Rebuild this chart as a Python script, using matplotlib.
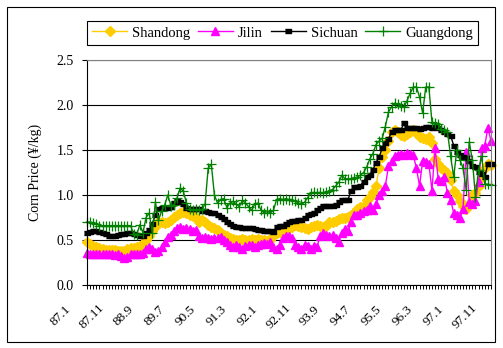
import numpy as np
import matplotlib.pyplot as plt
from matplotlib import transforms
from matplotlib.patches import Rectangle
from matplotlib.ticker import FormatStrFormatter

plt.rcParams['font.family'] = ['Liberation Serif', 'DejaVu Serif']

# Monthly corn prices (yuan/kg), 87.1 through 97.11
shandong = [
    0.48, 0.46, 0.43, 0.42, 0.41, 0.40, 0.39, 0.39, 0.39, 0.39,
    0.38, 0.38, 0.38, 0.40, 0.41, 0.41, 0.42, 0.43, 0.46, 0.50,
    0.54, 0.60, 0.64, 0.70, 0.70, 0.69, 0.70, 0.72, 0.76, 0.78,
    0.80, 0.81, 0.80, 0.78, 0.77, 0.76, 0.70, 0.72, 0.70, 0.67,
    0.65, 0.63, 0.61, 0.58, 0.56, 0.54, 0.52, 0.51, 0.50, 0.50,
    0.51, 0.50, 0.50, 0.51, 0.50, 0.51, 0.50, 0.50, 0.49, 0.50,
    0.55, 0.58, 0.59, 0.61, 0.62, 0.63, 0.64, 0.67, 0.66, 0.65,
    0.63, 0.62, 0.64, 0.66, 0.67, 0.66, 0.65, 0.66, 0.70, 0.70,
    0.71, 0.73, 0.75, 0.74, 0.76, 0.78, 0.80, 0.84, 0.87, 0.88,
    0.95, 0.98, 1.03, 1.10, 1.30, 1.42, 1.50, 1.60, 1.70, 1.72,
    1.70, 1.67, 1.66, 1.68, 1.70, 1.72, 1.69, 1.65, 1.63, 1.62,
    1.65, 1.58, 1.40, 1.35, 1.30, 1.28, 1.25, 1.17, 1.05, 1.00,
    0.93, 0.88, 0.85, 0.90, 1.00, 1.02, 1.10, 1.20, 1.30, 1.35,
    1.33,
]
jilin = [
    0.36, 0.35, 0.35, 0.34, 0.35, 0.34, 0.35, 0.34, 0.35, 0.33,
    0.34, 0.32, 0.30, 0.31, 0.34, 0.35, 0.34, 0.35, 0.36, 0.40,
    0.42, 0.40, 0.37, 0.38, 0.42, 0.48, 0.53, 0.56, 0.60, 0.63,
    0.64, 0.62, 0.63, 0.62, 0.60, 0.61, 0.55, 0.52, 0.53, 0.52,
    0.51, 0.52, 0.52, 0.53, 0.50, 0.48, 0.45, 0.42, 0.44, 0.42,
    0.40, 0.43, 0.45, 0.44, 0.42, 0.44, 0.46, 0.47, 0.46, 0.48,
    0.42, 0.40, 0.45, 0.52, 0.55, 0.54, 0.52, 0.44, 0.42, 0.40,
    0.44, 0.43, 0.40, 0.43, 0.42, 0.55, 0.58, 0.56, 0.54, 0.56,
    0.52, 0.48, 0.58, 0.62, 0.60, 0.70, 0.78, 0.78, 0.80, 0.82,
    0.83, 0.88, 0.83, 0.90, 1.00, 1.05, 1.10, 1.32, 1.38, 1.43,
    1.45, 1.46, 1.45, 1.47, 1.46, 1.44, 1.30, 1.10, 1.38, 1.37,
    1.35, 1.05, 1.52, 1.18, 1.16, 1.20, 1.02, 0.95, 0.80, 0.78,
    0.74, 0.85, 1.48, 0.92, 0.90, 0.93, 1.15, 1.52, 1.55, 1.75,
    1.60,
]
sichuan = [
    0.58, 0.59, 0.60, 0.60, 0.59, 0.58, 0.57, 0.55, 0.54, 0.54,
    0.56, 0.57, 0.57, 0.58, 0.58, 0.57, 0.56, 0.55, 0.55, 0.58,
    0.61, 0.68, 0.78, 0.84, 0.86, 0.86, 0.86, 0.87, 0.91, 0.93,
    0.92, 0.90, 0.86, 0.85, 0.85, 0.84, 0.84, 0.82, 0.82, 0.81,
    0.80, 0.80, 0.78, 0.76, 0.73, 0.70, 0.68, 0.66, 0.65, 0.64,
    0.63, 0.63, 0.63, 0.63, 0.62, 0.61, 0.61, 0.60, 0.60, 0.60,
    0.59, 0.65, 0.66, 0.66, 0.68, 0.70, 0.71, 0.71, 0.72, 0.72,
    0.75, 0.78, 0.79, 0.80, 0.83, 0.86, 0.88, 0.88, 0.88, 0.88,
    0.89, 0.92, 0.94, 0.94, 0.95, 1.05, 1.09, 1.09, 1.10, 1.15,
    1.20, 1.22, 1.28, 1.36, 1.42, 1.52, 1.58, 1.62, 1.70, 1.72,
    1.72, 1.72, 1.80, 1.75, 1.74, 1.74, 1.74, 1.73, 1.74, 1.76,
    1.76, 1.75, 1.76, 1.74, 1.72, 1.70, 1.68, 1.66, 1.55, 1.48,
    1.45, 1.42, 1.41, 1.38, 1.32, 1.31, 1.26, 1.23, 1.20, 1.35,
    1.35,
]
guangdong = [
    0.70, 0.70, 0.69, 0.68, 0.66, 0.66, 0.66, 0.66, 0.66, 0.66,
    0.66, 0.66, 0.66, 0.66, 0.66, 0.57, 0.56, 0.67, 0.58, 0.75,
    0.80, 0.58, 0.92, 0.72, 0.82, 0.89, 1.00, 0.88, 0.89, 0.97,
    1.08, 1.04, 0.91, 0.85, 0.83, 0.84, 0.83, 0.84, 0.90, 1.30,
    1.34, 1.00, 0.91, 0.95, 0.96, 0.86, 0.91, 0.93, 0.90, 0.87,
    0.94, 0.91, 0.87, 0.83, 0.90, 0.91, 0.83, 0.80, 0.82, 0.80,
    0.83, 0.95, 0.96, 0.95, 0.96, 0.95, 0.95, 0.93, 0.91, 0.90,
    0.92, 0.97, 1.02, 1.03, 1.02, 1.03, 1.02, 1.03, 1.05, 1.06,
    1.10, 1.14, 1.22, 1.18, 1.18, 1.18, 1.19, 1.20, 1.22, 1.25,
    1.31, 1.40, 1.46, 1.56, 1.60, 1.63, 1.76, 1.92, 1.98, 2.02,
    2.01, 1.99, 1.98, 2.05, 2.13, 2.20, 2.20, 2.09, 1.91, 2.20,
    2.20, 1.81, 1.80, 1.79, 1.73, 1.72, 1.70, 1.43, 1.20, 1.50,
    1.39, 1.30, 1.06, 1.59, 1.39, 0.98, 1.28, 1.43, 1.12, 1.12,
    1.11,
]

tick_labels = ['87.1', '87.11', '88.9', '89.7', '90.5', '91.3', '92.1',
               '92.11', '93.9', '94.7', '95.5', '96.3', '97.1', '97.11']
tick_step = 10

months = np.arange(len(shandong))

fig = plt.figure(figsize=(5.03, 3.48), dpi=100)
ax = fig.add_axes([87 / 503, 63 / 348, 404 / 503, 225 / 348])

ax.plot(months, shandong, color='#FFCC00', lw=1, marker='D', ms=4.6,
        mec='#FFCC00', label='Shandong', clip_on=False)
ax.plot(months, jilin, color='#FF00FF', lw=1, marker='^', ms=6,
        mec='#FF00FF', label='Jilin', clip_on=False)
rect = [(-1, -0.5), (1, -0.5), (1, 0.5), (-1, 0.5)]
ax.plot(months, sichuan, color='black', lw=1, marker=rect, ms=4.4,
        label='Sichuan', clip_on=False)
ax.plot(months, guangdong, color='#008000', lw=1, marker='+', ms=6.5,
        mew=0.9, label='Guangdong', clip_on=False)

ax.set_xlim(0, len(months) - 1)
ax.set_ylim(0, 2.5)
ax.set_yticks(np.arange(0, 2.51, 0.5))
ax.yaxis.set_major_formatter(FormatStrFormatter('%.1f'))
ax.grid(axis='y', color='black', lw=0.8)
ax.set_axisbelow(True)

for side in ['top', 'right']:
    ax.spines[side].set_color('#808080')
for side in ax.spines:
    ax.spines[side].set_linewidth(0.8)

ax.set_xticks(months)
ax.tick_params(axis='x', length=3, width=0.7, labelbottom=False)
ax.tick_params(axis='y', length=3.6, width=0.8, pad=6, labelsize=10)

# rotated month labels below the axis
label_tf = transforms.offset_copy(ax.get_xaxis_transform(), fig=fig,
                                  x=-26, y=-31, units='dots')
for k, lab in enumerate(tick_labels):
    ax.text(k * tick_step, 0, lab, transform=label_tf, rotation=45,
            ha='center', va='center', fontsize=9.5)

ax.set_ylabel('Corn Price (¥/kg)', fontsize=10)
ax.yaxis.set_label_coords(-0.111, 0.5)

leg = ax.legend(loc='center', ncol=4, mode='expand',
                bbox_to_anchor=(87 / 503, 1 - 47 / 348, 391 / 503, 28 / 348),
                bbox_transform=fig.transFigure, fontsize=10.5,
                handlelength=2.4, handletextpad=0.35, columnspacing=0.4,
                borderpad=0.35, borderaxespad=0, fancybox=False,
                framealpha=1, edgecolor='black')
leg.get_frame().set_linewidth(0.8)

# chart border
fig.add_artist(Rectangle((7 / 503, 6 / 348), 488 / 503, 335 / 348,
                         transform=fig.transFigure, fill=False,
                         ec='black', lw=0.8))

fig.savefig('out.png', dpi=100)
